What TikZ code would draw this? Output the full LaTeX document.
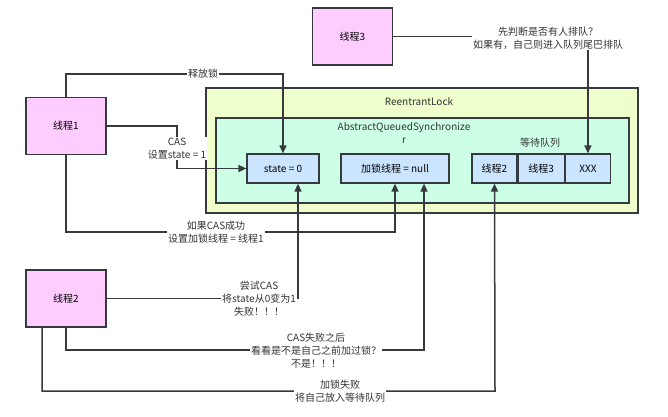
\documentclass[tikz,border=0pt]{standalone}
\usepackage{fontspec}
\setmainfont{Noto Sans CJK SC}
\usepackage{tikz}
\usepackage{xcolor}
\usetikzlibrary{arrows.meta, positioning, calc}

\definecolor{threadpink}{HTML}{FFCCFF}
\definecolor{lockgreen}{HTML}{EEFFCC}
\definecolor{aqsmint}{HTML}{CCFFE6}
\definecolor{fieldblue}{HTML}{CCE5FF}
\definecolor{edge}{HTML}{36393D}

\begin{document}
\begin{tikzpicture}[
  x=1pt, y=-1pt,
  font=\fontsize{10}{13}\selectfont,
  thread/.style={draw=edge, fill=threadpink, line width=1.3pt, minimum width=80pt, minimum height=57pt, inner sep=0pt},
  field/.style={draw=edge, fill=fieldblue, line width=1.2pt, minimum height=29pt, inner sep=0pt},
  frame/.style={draw=edge, line width=1.2pt, inner sep=0pt},
  note/.style={fill=white, align=center, inner sep=1pt, text=black!80},
  arr/.style={-{Triangle[length=8pt, width=7pt]}, line width=1.5pt, draw=edge}
]
\useasboundingbox (0,0) rectangle (668,416);

% lock and its queue
\node[frame, fill=lockgreen, minimum width=432pt, minimum height=125pt] (lock) at (422,150.5) {};
\node[frame, fill=aqsmint, minimum width=413pt, minimum height=85pt] (aqs) at (422.5,160.5) {};
\node[text=black!80] (locklbl) at (419,102) {ReentrantLock};
\node[text=black!80, align=center] (aqslbl) at (404,133) {AbstractQueuedSynchronize\\r};
\node[text=black!80] (waitlbl) at (540,143) {等待队列};

\node[field, minimum width=72pt] (st) at (283,168.5) {state = 0};
\node[field, minimum width=108pt] (owner) at (395,168.5) {加锁线程 = null};
\node[field, minimum width=45pt] (q1) at (494.5,168.5) {线程2};
\node[field, minimum width=46pt, right=0pt of q1] (q2) {线程3};
\node[field, minimum width=45pt, right=0pt of q2] (q3) {XXX};

% threads
\node[thread] (t1) at (66,126) {线程1};
\node[thread] (t2) at (66,298.5) {线程2};
\node[thread] (t3) at (352.5,36.5) {线程3};

% connectors
\draw[arr] (t1.north) -- (66,74) -| (st.north);
\draw[arr] (t1.east) -- (177,126) |- (st.west);
\draw[arr] (t1.south) |- (395,232) -- (owner.south);
\draw[arr] (t2.east) -- (298,298.5) -- (st.south -| 298,0);
\draw[arr] (t2.south) |- (424,350) -- (owner.south -| 424,0);
\draw[arr] ($(t2.south)+(-24,0)$) |- (495,391) -- (q1.south);
\draw[arr] (t3.east) -| (q3.north);

% labels
\node[note] (l1) at (203,74) {释放锁};
\node[note] (l2) at (177,148.5) {CAS\\设置state = 1};
\node[note] (l3) at (216,232.5) {如果CAS成功\\设置加锁线程 = 线程1};
\node[note] (l4) at (259,299) {尝试CAS\\将state从0变为1\\失败！！！};
\node[note] (l5) at (316,351) {CAS失败之后\\看看是不是自己之前加过锁？\\不是！！！};
\node[note] (l6) at (340,391) {加锁失败\\将自己放入等待队列};
\node[note] (l7) at (548,38) {先判断是否有人排队？\\如果有，自己则进入队列尾巴排队};
\end{tikzpicture}
\end{document}
